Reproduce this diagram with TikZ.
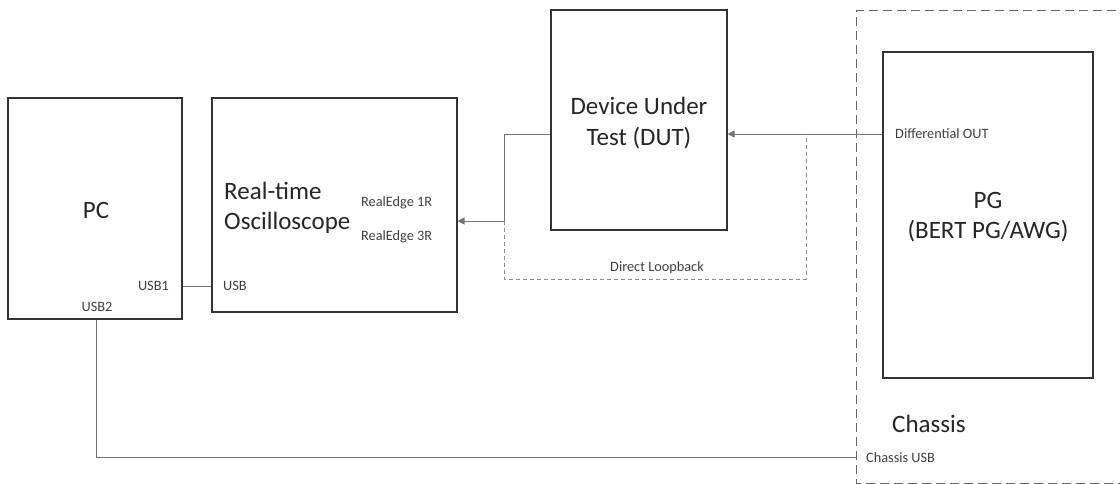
\documentclass[tikz,border=0pt]{standalone}
\usepackage{fontspec}
\setmainfont{Carlito}
\usetikzlibrary{arrows.meta}
\begin{document}
\begin{tikzpicture}[x=1pt,y=-1pt,
  box/.style={draw=black!80,line width=1.1pt,inner sep=0pt,fill=white},
  wire/.style={draw=black!55,line width=0.7pt},
  loop/.style={draw=black!45,line width=0.7pt,dash pattern=on 4pt off 3pt},
  big/.style={font=\fontsize{25}{30.5}\selectfont,text=black!85,align=center,inner sep=0pt},
  small/.style={font=\fontsize{14.3}{16}\selectfont,text=black!75,inner sep=0pt},
  tip/.style={-{Triangle[length=7pt,width=7pt]}}]
\useasboundingbox (0,0) rectangle (1120,484);
\fill[white] (0,0) rectangle (1120,484);
% chassis
\draw[draw=black!60,line width=1pt,dash pattern=on 9pt off 5pt] (1130,11) -- (856,11) -- (856,483) -- (1130,483);
% boxes
\node[box,minimum width=174pt,minimum height=221pt] (pc) at (95,208.5) {};
\node[box,minimum width=245pt,minimum height=214pt] (osc) at (334.5,205) {};
\node[box,minimum width=176pt,minimum height=220pt] (dut) at (639,120) {};
\node[box,minimum width=210pt,minimum height=326pt] (pg) at (988,215) {};
% texts
\node[big] (pctxt) at (96,210) {PC};
\node[big,anchor=west,align=left] (osctxt) at (224,208) {Real-time\\Oscilloscope};
\node[small,anchor=west] (re1) at (361,203) {RealEdge 1R};
\node[small,anchor=west] (re3) at (361,237) {RealEdge 3R};
\node[small,anchor=east] (usb1) at (169,286) {USB1};
\node[small] (usb2) at (97,307) {USB2};
\node[small,anchor=west] (usb) at (223,286) {USB};
\node[big] (duttxt) at (639,123) {Device Under\\Test (DUT)};
\node[small] (dlb) at (657,268) {Direct Loopback};
\node[small,anchor=west] (dout) at (895,134) {Differential OUT};
\node[big] (pgtxt) at (988,217) {PG\\(BERT PG/AWG)};
\node[font=\fontsize{25}{30}\selectfont,text=black!85,inner sep=0pt,anchor=west] (chtxt) at (892,424) {Chassis};
\node[small,anchor=west] (chusb) at (866,458) {Chassis USB};
% junctions
\coordinate (j1) at (504,134);
\coordinate (j2) at (504,221);
\coordinate (j3) at (504,279);
\coordinate (j4) at (806,279);
\coordinate (j5) at (806,134);
\coordinate (c1) at (96,457);
\coordinate (c2) at (856,457);
% connectors
\draw[wire] (pc.east |- 0,286) -- (osc.west |- 0,286);
\draw[wire] (dut.west |- j1) -- (j1) -- (j2);
\draw[wire,tip] (j2) -- (osc.east |- j2);
\draw[wire,tip] (pg.west |- j5) -- (dut.east |- j5);
\draw[loop] (j2) -- (j3) -- (j4) -- (j5);
\draw[wire] (pc.south -| c1) -- (c1) -- (c2);
\end{tikzpicture}
\end{document}
